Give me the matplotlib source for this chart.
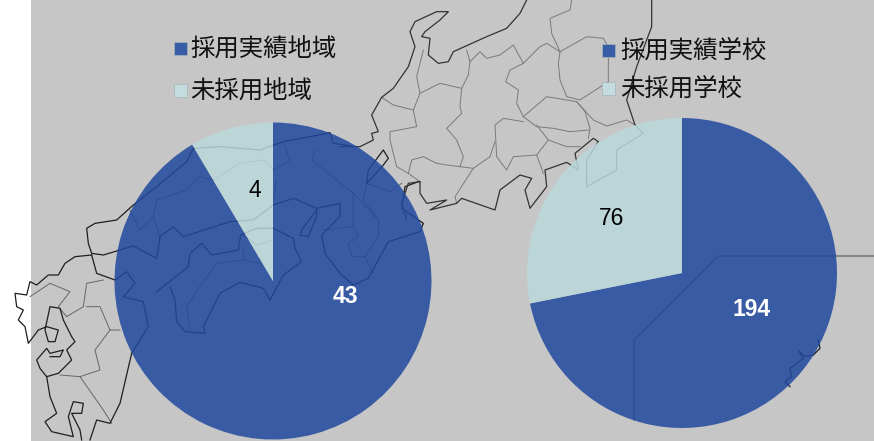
import numpy as np
import matplotlib
matplotlib.use('Agg')
import matplotlib.pyplot as plt
from matplotlib.patches import Rectangle

plt.rcParams['font.family'] = ['Noto Sans CJK JP', 'DejaVu Sans']

# chart values
region_labels = ['採用実績地域', '未採用地域']
region_values = [43, 4]
school_labels = ['採用実績学校', '未採用学校']
school_values = [194, 76]

BLUE = '#20499F'
PALE = '#BBD8DB'
BACK = '#C6C6C6'

# background map, traced from 3x crops of the picture
# west_* : crop at (0,120), east_* : crop at (340,0)
west_coast = [
    [(1070, 80), (1000, 70), (990, 38), (930, 50), (850, 65), (780, 90), (660, 80), (580, 85), (560, 125),
     (470, 200), (400, 255), (350, 300), (285, 310), (260, 325), (265, 370), (275, 400), (310, 405),
     (400, 378), (470, 415), (480, 350), (520, 320), (550, 350), (690, 305), (760, 300), (820, 255),
     (880, 235), (950, 265), (1020, 250), (1020, 290), (965, 345), (975, 400), (1020, 460), (1060, 495),
     (1105, 475), (1165, 365), (1260, 335), (1270, 310), (1205, 265), (1215, 200), (1255, 185)],
    # shikoku
    [(470, 515), (565, 440), (570, 400), (605, 370), (635, 405), (715, 390), (722, 345), (770, 325),
     (820, 325), (880, 355), (885, 385), (905, 425), (850, 465), (810, 540), (790, 505), (720, 487),
     (660, 520), (610, 620), (615, 640), (555, 635), (530, 605), (525, 540), (510, 500)],
    # awaji
    [(950, 270), (905, 330), (900, 345), (925, 350), (950, 290), (950, 270)],
    # kyushu
    [(275, 405), (225, 410), (195, 430), (175, 465), (145, 465), (110, 495), (90, 485), (80, 525), (45, 520),
     (50, 560), (70, 570), (55, 600), (75, 620), (85, 670), (115, 630), (140, 620), (175, 630), (165, 665),
     (145, 665), (135, 630), (150, 560), (180, 565), (190, 600), (215, 650), (225, 665), (200, 690),
     (215, 720), (175, 760), (140, 770), (120, 745), (110, 720), (140, 685), (150, 700), (190, 690),
     (180, 710), (150, 710)],
    [(140, 770), (150, 830), (170, 880), (135, 905), (155, 935), (220, 950), (205, 890), (220, 845),
     (250, 850), (245, 880), (215, 880), (240, 930), (245, 960)],
    [(275, 405), (290, 460), (345, 480), (380, 455), (405, 490), (370, 530), (430, 545), (445, 620),
     (395, 700), (360, 850), (330, 910), (290, 900), (270, 960)],
    # biwa
    [(1100, 190), (1105, 150), (1150, 90), (1165, 115), (1150, 135), (1100, 190)],
]
west_borders = [
    [(460, 290), (470, 240), (560, 210), (600, 170), (640, 180), (720, 130), (790, 120), (820, 150), (870, 120), (850, 65)],
    [(390, 270), (420, 330), (460, 290), (480, 350)],
    [(730, 345), (770, 375), (820, 360)],
    [(730, 390), (730, 420), (780, 430)],
    [(600, 500), (650, 430), (730, 420)],
    [(600, 500), (560, 560), (570, 630)],
    [(945, 90), (935, 120), (1010, 180), (1060, 220), (1135, 300), (1135, 350), (1095, 410), (1120, 460)],
    [(1060, 220), (1060, 320), (970, 330)],
    [(1060, 320), (1075, 350), (1045, 370), (1055, 410), (1095, 410)],
    [(1135, 300), (1090, 240), (1100, 190), (1170, 215), (1205, 190)],
    [(830, 180), (820, 240)],
    [(90, 530), (150, 490), (210, 515), (175, 560), (200, 590), (250, 560), (260, 490), (310, 480)],
    [(260, 560), (300, 560), (330, 630), (360, 630)],
    [(330, 630), (285, 690), (300, 750), (240, 770), (180, 765)],
    [(240, 770), (310, 870), (335, 910)],
]
east_coast = [
    [(560, 0), (540, 40), (500, 85), (440, 110), (340, 155), (325, 185), (295, 190), (265, 165), (270, 115),
     (245, 110), (255, 95), (300, 60), (325, 35), (290, 35), (225, 65), (210, 95), (225, 140), (205, 200),
     (160, 265), (125, 292), (95, 345), (115, 395), (95, 400), (100, 420), (60, 440), (0, 440)],
    [(240, 545), (205, 550), (185, 610), (200, 660)],
    [(240, 545), (240, 580), (260, 610), (320, 600), (270, 630), (350, 610), (365, 595), (465, 630), (480, 570),
     (540, 525), (575, 535), (555, 570), (570, 625), (620, 560), (615, 510), (680, 487), (715, 510), (705, 460),
     (760, 415), (775, 425), (740, 480), (740, 560), (830, 510), (830, 450), (910, 400), (885, 375), (860, 300),
     (890, 200), (935, 80), (935, 0)],
]
east_borders = [
    [(380, 150), (390, 185), (385, 225), (365, 265), (360, 320), (365, 340), (320, 385), (350, 420), (370, 470), (360, 500)],
    [(390, 185), (420, 155), (440, 175), (480, 165), (520, 135), (550, 190), (510, 210), (497, 245), (535, 270), (530, 310), (550, 350)],
    [(550, 190), (600, 140), (620, 130), (660, 155), (635, 100), (630, 55), (690, 30), (695, 0)],
    [(660, 155), (740, 110), (790, 115), (805, 140), (805, 245), (720, 300), (680, 290), (660, 240), (655, 190), (660, 155)],
    [(550, 350), (620, 290), (710, 305), (735, 335), (750, 385), (745, 415)],
    [(710, 305), (760, 360), (800, 378), (860, 360), (890, 378)],
    [(550, 350), (590, 380), (640, 385), (690, 395), (745, 390)],
    [(590, 375), (625, 420), (680, 440), (720, 440)],
    [(550, 365), (490, 355), (465, 375), (470, 470), (500, 510), (520, 470), (590, 465), (625, 420)],
    [(590, 465), (610, 520)],
    [(465, 425), (450, 470), (400, 505), (360, 500), (320, 495), (290, 490), (250, 470), (215, 480), (205, 520),
     (170, 500), (150, 420), (150, 395), (230, 380), (220, 330), (240, 280), (300, 250), (365, 265)],
    [(125, 292), (160, 315), (220, 330)],
    [(240, 280), (230, 230), (250, 150)],
    [(400, 505), (345, 590), (350, 610)],
    [(205, 520), (240, 545)],
]
# crop at (600,230)
south_coast = [
    [(655, 330), (660, 355), (640, 375), (615, 380), (595, 362), (610, 385), (570, 415), (575, 440), (555, 455), (570, 470)],
]
sea_boundary = [(874, 256), (718, 256), (634, 340), (634, 420)]


def draw_lines(ax, lines, offset, color, lw):
    for line in lines:
        pts = np.array(line) / 3 + offset
        ax.plot(pts[:, 0], 441 - pts[:, 1], color=color, lw=lw, zorder=1, solid_joinstyle='round')


def draw_pie(ax, values, center, radius):
    wedges, _ = ax.pie(values, colors=[BLUE, PALE], startangle=90, counterclock=False,
                       center=center, radius=radius, frame=True,
                       wedgeprops={'alpha': 0.85, 'linewidth': 0, 'zorder': 2})
    return wedges


def draw_key(ax, labels, xy_box, xy_text):
    for label, color, box, pos in zip(labels, ['#385CA5', '#C2DCDF'], xy_box, xy_text):
        ax.add_patch(Rectangle((box[0] - 6.5, 441 - box[1] - 6.5), 13, 13, fc=color, ec='#A8B4B8', lw=0.5, zorder=3))
        ax.text(pos[0], 441 - pos[1], label, fontsize=17.6, color='#111111', va='center', ha='left', zorder=4)


fig = plt.figure(figsize=(8.74, 4.41), dpi=100)
ax = fig.add_axes([0, 0, 1, 1])

ax.add_patch(Rectangle((31, 0), 843, 441, fc=BACK, ec='none', zorder=0))

draw_lines(ax, west_borders, (0, 120), '#666666', 0.7)
draw_lines(ax, east_borders, (340, 0), '#7A7A7A', 0.7)
draw_lines(ax, west_coast, (0, 120), '#1E1E1E', 0.9)
draw_lines(ax, east_coast, (340, 0), '#333333', 0.9)
draw_lines(ax, south_coast, (600, 230), '#1E1E1E', 0.9)
draw_lines(ax, [[(x * 3, y * 3) for x, y in sea_boundary]], (0, 0), '#6A6A6A', 1.0)

draw_pie(ax, region_values, (273, 441 - 281), 158.5)
draw_pie(ax, school_values, (682, 441 - 273), 155)

value_font = ['Liberation Sans', 'DejaVu Sans']
ax.text(345, 441 - 296.5, str(region_values[0]), color='white', fontsize=16.5, fontweight='bold',
        family=value_font, ha='center', va='center', zorder=4)
ax.text(255, 441 - 190.5, str(region_values[1]), color='black', fontsize=16.5,
        family=value_font, ha='center', va='center', zorder=4)
ax.text(752, 441 - 309.5, str(school_values[0]), color='white', fontsize=16.5, fontweight='bold',
        family=value_font, ha='center', va='center', zorder=4)
ax.text(612, 441 - 218.5, str(school_values[1]), color='black', fontsize=16.5,
        family=value_font, ha='center', va='center', zorder=4)

draw_key(ax, region_labels, [(180, 48), (180, 90)], [(190, 49), (190, 91)])
draw_key(ax, school_labels, [(608, 50), (608, 88)], [(620, 51), (620, 89)])

ax.set_xlim(0, 874)
ax.set_ylim(0, 441)
ax.set_aspect('auto')
ax.axis('off')

fig.savefig('out.png', dpi=100, facecolor='white')
